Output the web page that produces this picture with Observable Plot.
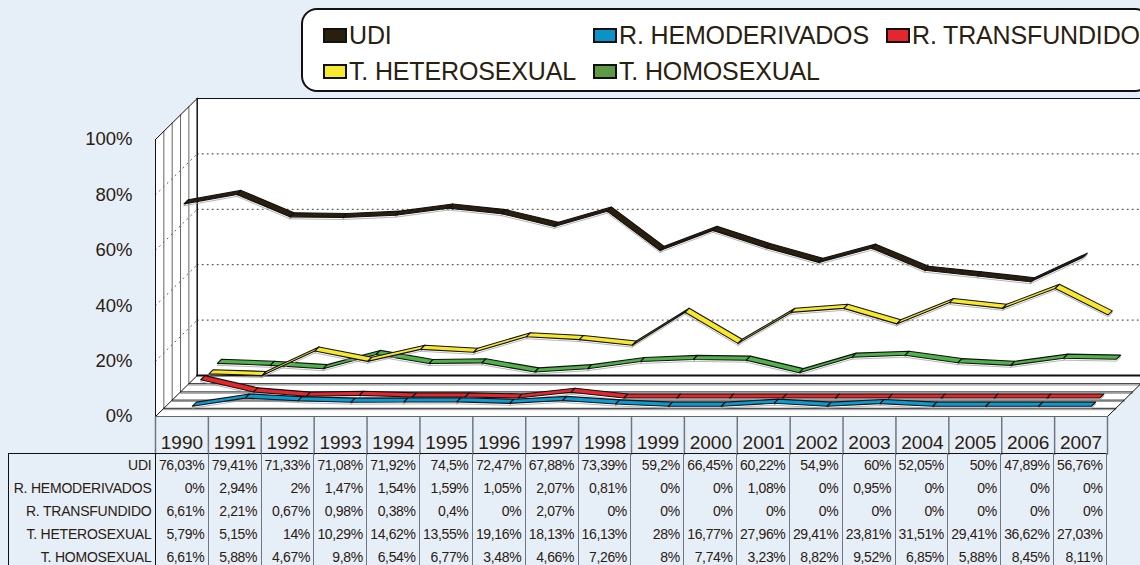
<!DOCTYPE html>
<html lang="es">
<head>
<meta charset="utf-8">
<script src="https://cdn.jsdelivr.net/npm/d3@7"></script>
<script src="https://cdn.jsdelivr.net/npm/@observablehq/plot@0.6"></script>
<style>
html,body{margin:0;padding:0;width:1140px;height:565px;overflow:hidden;background:#e6eef8;font-family:"Liberation Sans",Arial,sans-serif;color:#2a2010}
#chart{position:absolute;left:0;top:0}
#chart svg{background:transparent;display:block}
#legend{position:absolute;left:301px;top:8px;width:850px;height:84px;box-sizing:border-box;background:#fff;border:2.5px solid #111;border-radius:16px}
#legend .it{position:absolute;display:flex;align-items:center;font-size:25px;line-height:30px;white-space:nowrap;letter-spacing:-.15px}
#legend .sw{display:inline-block;width:20px;height:11px;border:2px solid #111;margin-right:2px}
#tbl{position:absolute;left:7.5px;top:452.5px;border-collapse:collapse;table-layout:fixed;width:1099.5px;font-size:14px;letter-spacing:-.35px}
#tbl td,#tbl th{font-weight:normal;padding:0 3.5px 0 0;height:23px;line-height:22px;text-align:right;white-space:nowrap;overflow:hidden;border-right:1.5px solid #6f7680;box-sizing:border-box}
#tbl tr:first-child td,#tbl tr:first-child th{border-top:1.5px solid #111}
#tbl th{border-left:1.5px solid #111;border-right:1.5px solid #111;width:147.5px;letter-spacing:-.22px}
</style>
</head>
<body>
<div id="chart"></div>
<div id="legend"></div>
<table id="tbl"></table>
<script>
const years = [1990,1991,1992,1993,1994,1995,1996,1997,1998,1999,2000,2001,2002,2003,2004,2005,2006,2007];
const udi = [76.03,79.41,71.33,71.08,71.92,74.5,72.47,67.88,73.39,59.2,66.45,60.22,54.9,60,52.05,50,47.89,56.76];
const hemoderivados = [0,2.94,2,1.47,1.54,1.59,1.05,2.07,0.81,0,0,1.08,0,0.95,0,0,0,0];
const transfundido = [6.61,2.21,0.67,0.98,0.38,0.4,0,2.07,0,0,0,0,0,0,0,0,0,0];
const heterosexual = [5.79,5.15,14,10.29,14.62,13.55,19.16,18.13,16.13,28,16.77,27.96,29.41,23.81,31.51,29.41,36.62,27.03];
const homosexual = [6.61,5.88,4.67,9.8,6.54,6.77,3.48,4.66,7.26,8,7.74,3.23,8.82,9.52,6.85,5.88,8.45,8.11];
const names = ["UDI","R. HEMODERIVADOS","R. TRANSFUNDIDO","T. HETEROSEXUAL","T. HOMOSEXUAL"];
const seriesValues = [udi,hemoderivados,transfundido,heterosexual,homosexual];
const ribbonColors = ["#2a1e0c","#0b9bd3","#e5262c","#f8e82c","#4fb349"];
const legendColors = ["#2a1e0c","#0a93c8","#e5262c","#f7e92f","#5d9a48"];
const yTicks = [0,20,40,60,80,100];

// pseudo-3D projection expressed in data units: one depth slot shifts the point
// right by a fraction of a year and up by a few percentage points
const slotX = 0.1577, slotY = 2.96, slots = 5, halfRibbon = 0.25;
const xMin = years[0]-0.5, xMax = years[years.length-1]+0.5;
const pt = (x,y,d) => ({x:x+d*slotX, y:y+d*slotY});
const poly = (id,pts) => pts.map(p => ({...p,id}));

const backWall = poly("b",[pt(xMin,100,slots),pt(xMax,100,slots),pt(xMax,0,slots),pt(xMin,0,slots),pt(xMin,100,slots)]);
const sideWall = poly("s",[pt(xMin,100,0),pt(xMin,100,slots),pt(xMin,0,slots),pt(xMin,0,0),pt(xMin,100,0)]);
const floor = poly("f",[pt(xMin,0,0),pt(xMin,0,slots),pt(xMax,0,slots),pt(xMax,0,0),pt(xMin,0,0)]);
const sideSlots = d3.range(1,slots).flatMap(d => poly("v"+d,[pt(xMin,100,d),pt(xMin,0,d)]));
const floorSlots = d3.range(1,slots).flatMap(d => poly("h"+d,[pt(xMin,0,d),pt(xMax,0,d)]));
const floorShade = d3.range(1,slots).flatMap(d => poly("g"+d,[pt(xMin,-0.5,d),pt(xMax,-0.5,d)]));
const backGrid = yTicks.slice(1,-1).flatMap(v => poly("bg"+v,[pt(xMin,v,slots),pt(xMax,v,slots)]));
const sideGrid = yTicks.slice(1,-1).flatMap(v => poly("sg"+v,[pt(xMin,v,0),pt(xMin,v,slots)]));
const rightEdge = poly("r",[pt(xMax,0,0),pt(xMax,0,slots)]);
const backFloor = poly("bf",[pt(xMin,0,slots),pt(xMax,0,slots)]);
const frontFloor = poly("ff",[pt(xMin,0,0),pt(xMax,0,0)]);
const frontLeft = poly("fl",[pt(xMin,100,0),pt(xMin,0,0)]);
const backLeft = poly("bl",[pt(xMin,100,slots),pt(xMin,0,slots)]);
const topEdge = poly("t",[pt(xMin,100,slots),pt(xMax,100,slots)]);
const boundaries = d3.range(xMin,xMax+0.5,1);

function ribbon(values,slot){
  const a = slot+0.5-halfRibbon, b = slot+0.5+halfRibbon, out = [];
  for(let i=0;i<values.length-1;i++){
    const x0=years[i], x1=years[i+1], y0=values[i], y1=values[i+1];
    out.push(...poly(slot+"-"+i,[pt(x0,y0,a),pt(x1,y1,a),pt(x1,y1,b),pt(x0,y0,b),pt(x0,y0,a)]));
  }
  return out;
}
const ln = (data,opts) => Plot.line(data,{x:"x",y:"y",z:"id",...opts});
const ribbonMarks = [4,3,2,1,0].flatMap(s => [
  ln(ribbon(seriesValues[s],s).map(p=>({...p,y:p.y-0.7})),{stroke:"#999",strokeWidth:1,strokeOpacity:.7}),
  ln(ribbon(seriesValues[s],s),{fill:ribbonColors[s],stroke:"#111",strokeWidth:1.1,strokeLinejoin:"round"})
]);

const chart = Plot.plot({
  width:1140,height:565,
  marginLeft:155,marginRight:33,marginTop:139,marginBottom:149,
  style:{fontFamily:"'Liberation Sans',Arial,sans-serif",background:"transparent",color:"#2a2010",overflow:"visible"},
  x:{domain:[xMin,xMax],label:null},
  y:{domain:[0,100],label:null},
  marks:[
    ln(backWall,{fill:"#fff",stroke:"none"}),
    ln(sideWall,{fill:"#fff",stroke:"none"}),
    ln(floor,{fill:"#fff",stroke:"none"}),
    ln(backGrid,{stroke:"#333",strokeWidth:1,strokeDasharray:"1,4"}),
    ln(sideGrid,{stroke:"#555",strokeWidth:1,strokeDasharray:"1,4.5"}),
    ln(sideSlots,{stroke:"#666",strokeWidth:1}),
    ln(floorShade,{stroke:"#999",strokeWidth:1}),
    ln(floorSlots,{stroke:"#222",strokeWidth:1}),
    ln(frontLeft,{stroke:"#111",strokeWidth:1}),
    ln(backLeft,{stroke:"#111",strokeWidth:1.5}),
    ln(topEdge,{stroke:"#111",strokeWidth:1}),
    ln(sideWall.slice(0,2),{stroke:"#111",strokeWidth:1}),
    ln(sideWall.slice(2,5),{stroke:"#111",strokeWidth:1}),
    ln(backFloor,{stroke:"#111",strokeWidth:2}),
    ln(rightEdge,{stroke:"#111",strokeWidth:1}),
    Plot.ruleX(boundaries,{y1:0,y2:-14,stroke:"#6f7680",strokeWidth:1.5}),
    ln(frontFloor,{stroke:"#666",strokeWidth:1.2}),
    ...ribbonMarks,
    Plot.axisY(yTicks,{tickSize:0,tickPadding:23,tickFormat:d=>d+"%",fontSize:18.5,label:null,fill:"#2a2010"}),
    Plot.axisX(years,{tickSize:0,tickPadding:19,tickFormat:d=>String(d),fontSize:19,label:null,fill:"#2a2010"})
  ]
});
document.getElementById("chart").append(chart);

// legend
const legendPos = [[20,20],[290,20],[583,20],[20,56],[290,56]];
const legend = document.getElementById("legend");
names.forEach((n,i)=>{
  const it = document.createElement("div");
  it.className="it";
  it.style.left = legendPos[i][0]+"px";
  it.style.top = (legendPos[i][1]-10)+"px";
  it.innerHTML = `<span class="sw" style="background:${legendColors[i]}"></span>`+n;
  legend.append(it);
});

// data table
const fmt = v => String(v).replace(".",",")+"%";
const tbl = document.getElementById("tbl");
names.forEach((n,r)=>{
  const tr = document.createElement("tr");
  const th = document.createElement("th"); th.textContent=n; tr.append(th);
  seriesValues[r].forEach(v=>{const td=document.createElement("td");td.textContent=fmt(v);tr.append(td);});
  tbl.append(tr);
});
</script>
</body>
</html>
